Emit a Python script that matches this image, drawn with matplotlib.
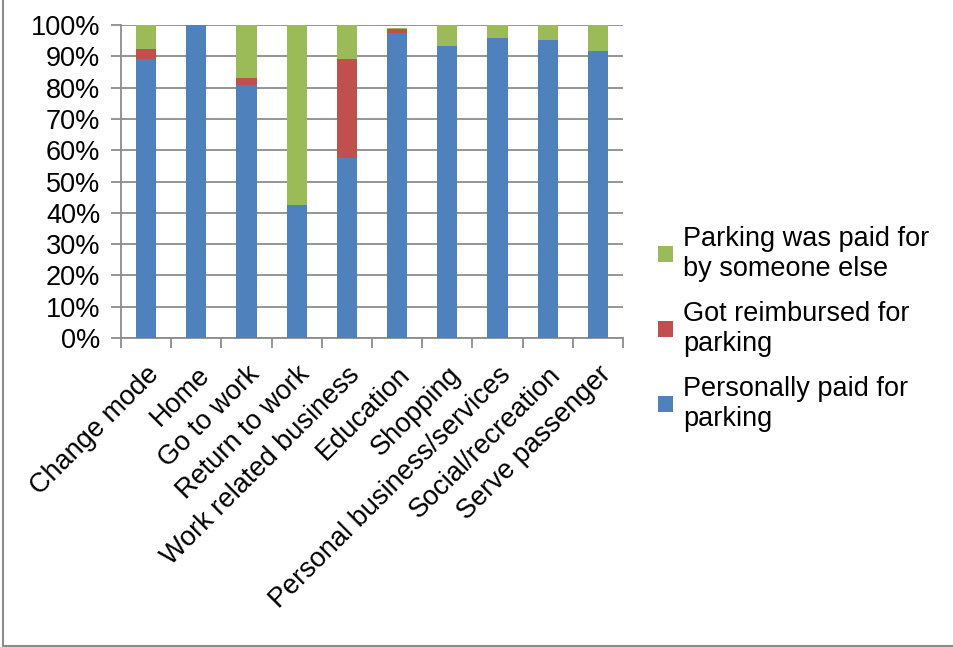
import matplotlib

matplotlib.use("Agg")
import matplotlib.pyplot as plt
from matplotlib.lines import Line2D
from matplotlib.patches import Patch
from matplotlib.ticker import FuncFormatter, FixedLocator

plt.rcParams["font.family"] = ["Liberation Sans", "DejaVu Sans"]

purposes = [
    "Change mode", "Home", "Go to work", "Return to work",
    "Work related business", "Education", "Shopping",
    "Personal business/services", "Social/recreation", "Serve passenger",
]
# shares in percent, stacked bottom to top
personally_paid = [89.1, 100.0, 80.9, 42.6, 57.6, 97.4, 93.4, 95.7, 95.3, 91.8]
reimbursed = [3.3, 0.0, 2.3, 0.0, 31.5, 1.2, 0.0, 0.0, 0.0, 0.0]
paid_by_other = [7.6, 0.0, 16.8, 57.4, 10.9, 0.4, 6.6, 4.3, 4.7, 8.2]

series_labels = [
    "Personally paid for\nparking",
    "Got reimbursed for\nparking",
    "Parking was paid for\nby someone else",
]
colors = ["#4f81bd", "#c0504d", "#9bbb59"]
FS = 19.5

W, H = 954, 647
fig = plt.figure(figsize=(W / 100, H / 100), dpi=100)
ax = fig.add_axes([121 / W, 1 - 338 / H, (623 - 121) / W, (338 - 25) / H])

x = list(range(len(purposes)))
bottom = [0.0] * len(purposes)
for vals, col in zip([personally_paid, reimbursed, paid_by_other], colors):
    ax.bar(x, vals, width=0.4, bottom=bottom, color=col, edgecolor="none", zorder=3)
    bottom = [b + v for b, v in zip(bottom, vals)]

ax.set_xlim(-0.5, len(purposes) - 0.5)
ax.set_ylim(0, 100)
ax.set_yticks(range(0, 101, 10))
ax.yaxis.set_major_formatter(FuncFormatter(lambda v, _: f"{int(v)}%"))
ax.grid(axis="y", color="#8c8c8c", linewidth=1.3, zorder=0)

# category labels sit under bar centres, ticks fall between categories
ax.set_xticks(x)
ax.set_xticklabels(purposes, rotation=45, ha="right", va="top",
                   rotation_mode="anchor", fontsize=FS)
ax.tick_params(axis="x", which="major", length=0, pad=17)
ax.xaxis.set_minor_locator(FixedLocator([i - 0.5 for i in range(len(purposes) + 1)]))
ax.tick_params(axis="x", which="minor", length=7, width=1.3, color="#8c8c8c")
ax.tick_params(axis="y", length=7, width=1.3, color="#8c8c8c", labelsize=FS, pad=8)

for side in ["top", "right"]:
    ax.spines[side].set_visible(False)
for side in ["left", "bottom"]:
    ax.spines[side].set_color("#8c8c8c")
    ax.spines[side].set_linewidth(1.3)

handles = [Patch(facecolor=c, edgecolor="none") for c in colors][::-1]
leg = fig.legend(handles, series_labels[::-1], loc="upper left",
                 bbox_to_anchor=(636 / W, 1 - 204 / H), frameon=False,
                 fontsize=FS, handlelength=0.55, handleheight=0.55,
                 handletextpad=0.4, labelspacing=0.7, borderpad=0.3)

# outer chart frame (left and bottom edges)
fig.add_artist(Line2D([2.5 / W, 2.5 / W], [1.5 / H, 1.0], transform=fig.transFigure,
                      color="#8c8c8c", linewidth=1.5))
fig.add_artist(Line2D([2.5 / W, 1.0], [1.5 / H, 1.5 / H], transform=fig.transFigure,
                      color="#8c8c8c", linewidth=1.5))

fig.savefig("out.png", dpi=100)
